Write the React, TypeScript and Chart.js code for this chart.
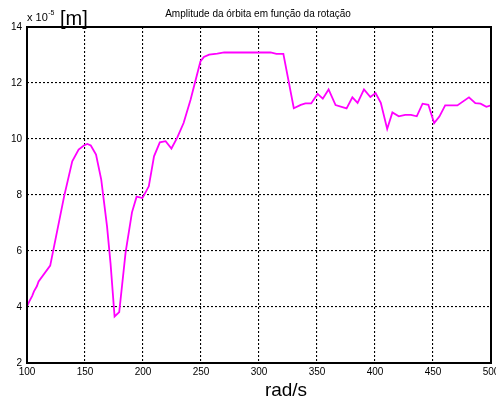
import React, { useEffect, useRef } from "react";
import { Chart, registerables } from "chart.js";

Chart.register(...registerables);

// Rotation speed (rad/s)
const rotacao = [
  100, 102, 104.5, 106, 108.5, 110, 120, 132, 139, 144.5, 149, 152, 155, 159.5,
  164, 169, 172, 175.5, 179.5, 185, 190.5, 194.5, 199.5, 205, 209.5, 214.5,
  219.5, 224.5, 229.5, 235, 241, 249.5, 252.5, 257, 264, 270, 310, 315, 321,
  330, 336, 340, 345, 350.5, 355, 360, 366, 375.5, 380.5, 385, 390.5, 396,
  400.5, 405, 410.5, 415, 420.5, 426, 431, 436, 441, 446, 451, 455.5, 460.5,
  471, 481, 486.5, 491, 496, 500,
];

// Orbit amplitude (x 10^-5 m)
const amplitude = [
  4.02, 4.2, 4.4, 4.56, 4.74, 4.91, 5.48, 7.95, 9.2, 9.62, 9.77, 9.82, 9.77,
  9.44, 8.55, 6.88, 5.57, 3.66, 3.82, 5.95, 7.38, 7.94, 7.89, 8.31, 9.38, 9.88,
  9.92, 9.66, 10.05, 10.57, 11.4, 12.77, 12.93, 13.01, 13.05, 13.09, 13.09,
  13.04, 13.04, 11.1, 11.22, 11.27, 11.27, 11.61, 11.44, 11.77, 11.21, 11.09,
  11.49, 11.29, 11.77, 11.5, 11.64, 11.29, 10.36, 10.95, 10.81, 10.86, 10.86,
  10.81, 11.26, 11.22, 10.57, 10.8, 11.2, 11.2, 11.49, 11.28, 11.26, 11.15,
  11.2,
];

const xTicks = { min: 100, max: 500, step: 50 };
const yTicks = { min: 2, max: 14, step: 2 };

const titulo = "Amplitude da órbita em função da rotação";
const rotuloX = "rad/s";
const unidadeY = "[m]";

const FONT = "'Liberation Sans', Arial, sans-serif";

// Frame box plus the MATLAB-style annotations around the axes
const framePlugin = {
  id: "frameAndLabels",
  afterDraw(chart: any) {
    const { ctx, chartArea } = chart;
    const { left, right, top, bottom } = chartArea;
    ctx.save();
    ctx.strokeStyle = "#000";
    ctx.lineWidth = 2;
    ctx.strokeRect(left, top, right - left, bottom - top);

    ctx.fillStyle = "#000";
    ctx.textBaseline = "alphabetic";

    // title
    ctx.font = `10px ${FONT}`;
    ctx.textAlign = "center";
    ctx.fillText(titulo, 258, 17);

    // exponent
    ctx.textAlign = "left";
    ctx.font = `11px ${FONT}`;
    const base = "x 10";
    ctx.fillText(base, 27, 21);
    const w = ctx.measureText(base).width;
    ctx.font = `7px ${FONT}`;
    ctx.fillText("-5", 27 + w + 0.5, 15);

    // unit
    ctx.font = `20px ${FONT}`;
    ctx.fillText(unidadeY, 60, 25);

    // x axis label
    ctx.font = `19px ${FONT}`;
    ctx.textAlign = "center";
    ctx.fillText(rotuloX, 286, 396);
    ctx.restore();
  },
};

export default function App() {
  const canvasRef = useRef<HTMLCanvasElement | null>(null);

  useEffect(() => {
    document.body.style.margin = "0";
    const canvas = canvasRef.current;
    if (!canvas) return;
    const points = rotacao.map((x, i) => ({ x, y: amplitude[i] }));

    const chart = new Chart(canvas, {
      type: "line",
      data: {
        datasets: [
          {
            data: points,
            borderColor: "#ff00ff",
            borderWidth: 1.8,
            pointRadius: 0,
            tension: 0,
            fill: false,
          },
        ],
      },
      options: {
        animation: false,
        responsive: false,
        devicePixelRatio: 1,
        parsing: false as any,
        layout: { padding: { top: 27, left: 0, right: 5, bottom: 0 } },
        plugins: {
          legend: { display: false },
          tooltip: { enabled: false },
          title: { display: false },
        },
        scales: {
          x: {
            type: "linear",
            min: xTicks.min,
            max: xTicks.max,
            ticks: {
              stepSize: xTicks.step,
              color: "#000",
              font: { family: FONT, size: 10 },
              padding: 3,
              maxRotation: 0,
            },
            grid: {
              color: "#000",
              lineWidth: 1.1,
              drawTicks: false,
            },
            border: { display: false, dash: [2, 2] },
            afterFit(scale: any) {
              scale.height = 35;
              scale.paddingLeft = 0;
              scale.paddingRight = 0;
            },
          },
          y: {
            type: "linear",
            min: yTicks.min,
            max: yTicks.max,
            ticks: {
              stepSize: yTicks.step,
              color: "#000",
              font: { family: FONT, size: 10 },
              padding: 5,
            },
            grid: {
              color: "#000",
              lineWidth: 1.1,
              drawTicks: false,
            },
            border: { display: false, dash: [2, 2] },
            afterFit(scale: any) {
              scale.width = 27;
              scale.paddingTop = 0;
              scale.paddingBottom = 0;
            },
          },
        },
      },
      plugins: [framePlugin],
    });

    return () => chart.destroy();
  }, []);

  return (
    <div style={{ width: 496, height: 398, background: "#fff" }}>
      <canvas ref={canvasRef} width={496} height={398} />
    </div>
  );
}
